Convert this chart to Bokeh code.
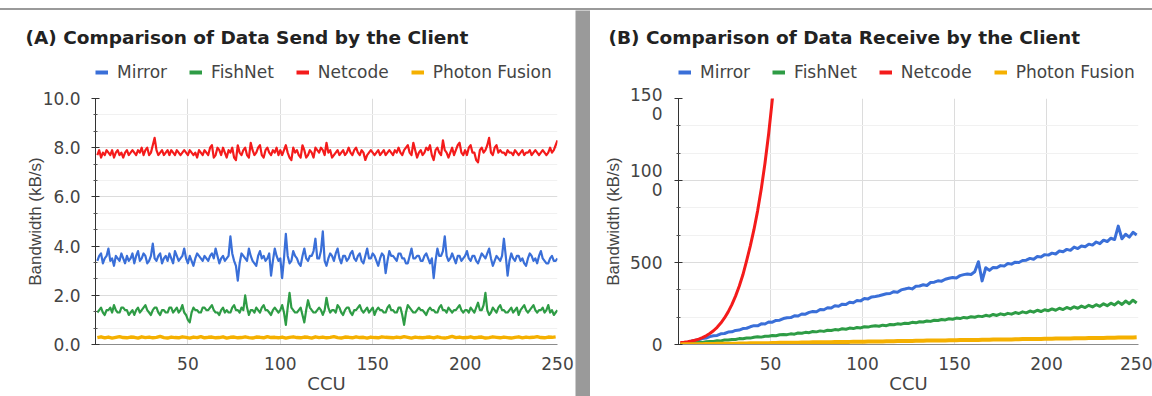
from bokeh.plotting import figure
from bokeh.layouts import row, column
from bokeh.models import Legend, LegendItem, FixedTicker, PrintfTickFormatter, Div
from bokeh.embed import file_html
from bokeh.resources import INLINE

# ---------------- data ----------------
ccu = list(range(1, 251))          # every CCU step
ccu_half = list(range(1, 250, 2))  # every second CCU step

series_names = ["Mirror", "FishNet", "Netcode", "Photon Fusion"]
series_colors = ["#3a6fd8", "#2e9c45", "#f41b1b", "#f5b000"]

x_ticks = [50, 100, 150, 200, 250]

# (A) data send by the client, kB/s  (one value per CCU)
send_netcode = [
    7.7, 7.9, 7.6, 7.8, 7.7, 7.9, 7.8, 7.7, 7.9, 7.6, 7.8, 7.9, 7.7, 7.8, 7.6, 7.8, 7.9, 7.7, 7.8, 7.9,
    7.8, 7.7, 7.9, 7.8, 8.0, 7.7, 7.9, 8.0, 7.7, 7.8, 8.1, 8.4, 7.9, 7.7, 7.8, 7.9, 7.7, 7.8, 7.9, 7.7,
    7.9, 7.8, 7.7, 7.9, 7.8, 7.7, 7.8, 7.9, 7.8, 7.7, 7.9, 7.8, 7.7, 7.8, 7.6, 7.9, 7.8, 7.7, 7.9, 7.8,
    7.7, 8.0, 8.1, 7.6, 7.7, 8.0, 7.9, 7.7, 8.0, 7.8, 7.6, 7.9, 7.8, 8.0, 7.6, 7.5, 8.1, 7.8, 7.7, 7.9,
    8.0, 7.7, 7.6, 8.2, 7.9, 7.7, 7.8, 8.0, 8.1, 7.7, 7.6, 7.9, 8.0, 7.8, 7.7, 7.9, 7.8, 8.0, 7.7, 7.9,
    7.7, 7.9, 8.1, 7.8, 7.6, 7.5, 8.0, 7.8, 7.9, 7.7, 7.6, 8.1, 7.9, 7.6, 7.7, 7.9, 7.8, 7.6, 8.0, 7.9,
    7.8, 8.0, 7.9, 7.7, 8.2, 7.8, 7.9, 7.6, 7.7, 7.8, 7.9, 7.7, 7.8, 7.9, 7.7, 7.8, 8.0, 7.8, 7.7, 7.9,
    8.0, 7.8, 7.7, 7.9, 7.8, 7.5, 7.7, 7.8, 7.9, 7.8, 7.7, 7.8, 7.9, 7.7, 7.8, 7.9, 7.7, 7.8, 7.9, 7.8,
    7.7, 7.9, 7.8, 8.0, 7.8, 7.7, 7.9, 8.0, 8.1, 7.8, 7.7, 8.2, 7.9, 7.6, 7.8, 7.9, 7.7, 7.8, 8.0, 7.9,
    8.1, 7.7, 7.5, 7.9, 8.0, 7.8, 7.7, 8.3, 7.9, 7.8, 7.6, 7.8, 8.0, 7.7, 7.9, 8.1, 8.2, 7.8, 7.7, 7.9,
    7.7, 8.0, 8.1, 7.8, 7.8, 7.5, 7.4, 7.9, 8.0, 7.8, 7.9, 8.1, 8.4, 7.8, 7.7, 8.0, 8.1, 7.8, 7.9, 7.8,
    7.8, 7.7, 7.9, 7.8, 7.8, 7.7, 7.9, 7.8, 7.7, 7.8, 7.9, 7.7, 7.8, 7.8, 7.9, 7.7, 7.8, 7.9, 7.8, 7.7,
    7.8, 7.9, 7.8, 7.7, 7.8, 8.0, 7.8, 7.9, 8.1, 8.3,
]
send_mirror = [
    3.4, 3.6, 3.7, 3.3, 3.5, 3.6, 3.9, 3.4, 3.5, 3.2, 3.6, 3.5, 3.4, 3.7, 3.5, 3.3, 3.6, 3.4, 3.5, 3.7,
    3.3, 3.6, 3.8, 3.4, 3.5, 3.7, 3.6, 3.3, 3.4, 3.6, 4.1, 3.5, 3.4, 3.6, 3.7, 3.3, 3.5, 3.6, 3.4, 3.7,
    3.5, 3.3, 3.8, 3.6, 3.4, 3.5, 3.6, 3.9, 3.5, 3.3, 3.6, 3.4, 3.2, 3.5, 3.7, 3.6, 3.5, 3.4, 3.6, 3.5,
    3.4, 3.6, 3.7, 3.5, 3.9, 3.6, 3.3, 3.5, 3.6, 3.4, 3.5, 3.6, 4.4, 3.7, 3.4, 3.2, 2.6, 3.3, 3.7, 3.6,
    3.5, 3.4, 3.9, 3.6, 3.4, 3.3, 3.2, 3.6, 3.8, 3.5, 3.6, 3.4, 3.5, 3.7, 2.8, 3.4, 3.9, 3.6, 3.4, 3.5,
    2.7, 3.5, 4.5, 3.6, 3.3, 3.4, 3.8, 3.6, 3.5, 3.3, 3.2, 3.6, 3.9, 3.5, 3.4, 3.6, 3.6, 3.8, 4.3, 3.5,
    3.5, 3.8, 4.6, 3.4, 3.2, 3.5, 3.7, 3.6, 3.4, 3.7, 3.9, 3.5, 3.3, 3.6, 3.6, 3.4, 3.5, 3.7, 3.8, 3.5,
    3.4, 3.6, 3.7, 3.4, 3.3, 3.6, 3.9, 3.5, 3.5, 3.7, 3.6, 3.4, 3.2, 3.5, 3.7, 3.6, 2.9, 3.4, 3.8, 3.6,
    3.6, 3.5, 3.4, 3.7, 3.7, 3.5, 3.5, 3.3, 3.3, 3.6, 3.9, 3.5, 3.5, 3.6, 3.6, 3.4, 3.4, 3.6, 3.7, 3.5,
    3.3, 3.5, 2.7, 3.4, 3.9, 3.6, 3.6, 3.8, 4.4, 3.6, 3.4, 3.5, 3.7, 3.5, 3.3, 3.6, 3.6, 3.4, 3.5, 3.6,
    3.8, 3.5, 3.4, 3.6, 3.6, 3.4, 3.3, 3.5, 3.7, 3.6, 3.5, 3.7, 3.9, 3.5, 3.2, 3.4, 3.6, 3.5, 3.4, 3.6,
    4.3, 3.6, 2.8, 3.4, 3.7, 3.5, 3.4, 3.6, 3.6, 3.4, 3.5, 3.3, 3.2, 3.5, 3.7, 3.6, 3.4, 3.5, 3.3, 3.6,
    3.8, 3.5, 3.4, 3.3, 3.3, 3.5, 3.6, 3.4, 3.4, 3.5,
]
send_fishnet = [
    1.3, 1.4, 1.5, 1.3, 1.2, 1.4, 1.4, 1.5, 1.3, 1.6, 1.4, 1.3, 1.3, 1.5, 1.5, 1.4, 1.4, 1.2, 1.3, 1.4,
    1.2, 1.4, 1.5, 1.3, 1.4, 1.5, 1.6, 1.4, 1.3, 1.2, 1.4, 1.5, 1.5, 1.3, 1.2, 1.4, 1.4, 1.3, 1.3, 1.5,
    1.5, 1.3, 1.4, 1.5, 1.3, 1.4, 1.6, 1.3, 1.2, 1.0, 0.9, 1.3, 1.5, 1.4, 1.4, 1.3, 1.3, 1.5, 1.5, 1.4,
    1.4, 1.5, 1.6, 1.4, 1.3, 1.3, 1.2, 1.4, 1.5, 1.3, 1.4, 1.3, 1.3, 1.5, 1.6, 1.4, 1.4, 1.3, 1.5, 1.4,
    2.0, 1.5, 1.2, 1.4, 1.4, 1.3, 1.5, 1.4, 1.3, 1.5, 1.6, 1.4, 1.4, 1.3, 1.2, 1.4, 1.5, 1.4, 1.3, 1.4,
    1.6, 1.3, 0.8, 1.5, 2.1, 1.5, 1.4, 1.3, 1.3, 1.4, 1.5, 1.2, 0.9, 1.4, 1.8, 1.5, 1.4, 1.3, 1.3, 1.4,
    1.5, 1.4, 1.2, 1.4, 1.9, 1.5, 1.3, 1.4, 1.4, 1.3, 1.6, 1.5, 1.3, 1.2, 1.4, 1.5, 1.5, 1.3, 1.2, 1.4,
    1.4, 1.5, 1.6, 1.4, 1.3, 1.4, 1.5, 1.3, 1.4, 1.5, 1.2, 1.4, 1.5, 1.4, 1.4, 1.3, 1.3, 1.5, 1.6, 1.4,
    1.4, 1.3, 1.3, 1.5, 1.5, 1.2, 0.8, 1.3, 1.6, 1.5, 1.4, 1.3, 1.3, 1.4, 1.5, 1.4, 1.4, 1.3, 1.2, 1.4,
    1.5, 1.4, 1.4, 1.3, 1.3, 1.5, 1.6, 1.4, 1.4, 1.3, 1.5, 1.4, 1.3, 1.4, 1.4, 1.5, 1.6, 1.4, 1.3, 1.4,
    1.4, 1.3, 1.5, 1.4, 1.3, 1.5, 1.7, 1.4, 1.4, 1.6, 2.1, 1.4, 1.2, 1.3, 1.5, 1.4, 1.3, 1.5, 1.6, 1.4,
    1.4, 1.3, 1.3, 1.4, 1.5, 1.3, 1.4, 1.5, 1.2, 1.4, 1.5, 1.6, 1.4, 1.3, 1.4, 1.5, 1.6, 1.4, 1.3, 1.4,
    1.4, 1.5, 1.3, 1.4, 1.6, 1.3, 1.4, 1.2, 1.3, 1.4,
]
# (one value per second CCU step)
send_photon = [
    0.28, 0.31, 0.27, 0.30, 0.26, 0.29, 0.32, 0.28, 0.27, 0.30,
    0.29, 0.26, 0.31, 0.28, 0.30, 0.27, 0.29, 0.33, 0.28, 0.26,
    0.30, 0.28, 0.27, 0.31, 0.29, 0.26, 0.30, 0.28, 0.32, 0.27,
    0.29, 0.30, 0.27, 0.28, 0.31, 0.26, 0.29, 0.30, 0.27, 0.28,
    0.31, 0.28, 0.26, 0.30, 0.29, 0.27, 0.32, 0.28, 0.29, 0.27,
    0.30, 0.26, 0.29, 0.31, 0.28, 0.27, 0.30, 0.29, 0.26, 0.31,
    0.28, 0.30, 0.27, 0.29, 0.32, 0.28, 0.26, 0.30, 0.29, 0.27,
    0.31, 0.28, 0.29, 0.26, 0.30, 0.28, 0.27, 0.31, 0.29, 0.28,
    0.27, 0.30, 0.28, 0.32, 0.29, 0.26, 0.30, 0.28, 0.27, 0.29,
    0.30, 0.27, 0.31, 0.28, 0.26, 0.29, 0.33, 0.28, 0.30, 0.27,
    0.28, 0.31, 0.27, 0.29, 0.30, 0.26, 0.28, 0.31, 0.29, 0.27,
    0.30, 0.28, 0.26, 0.29, 0.31, 0.27, 0.30, 0.28, 0.29, 0.32,
    0.28, 0.27, 0.30, 0.29, 0.31,
]
send_y_ticks = [0, 2, 4, 6, 8, 10]
send_y_minor = [0.667, 1.333, 2.667, 3.333, 4.667, 5.333, 6.667, 7.333, 8.667, 9.333]

# (B) data receive by the client, kB/s  (one value per second CCU step)
recv_mirror = [
    4, 9, 12, 20, 26, 28, 37, 39, 48, 53,
    55, 65, 67, 76, 77, 86, 88, 97, 99, 108,
    115, 114, 126, 125, 137, 136, 147, 148, 158, 163,
    164, 175, 174, 186, 185, 196, 201, 200, 214, 212,
    224, 222, 236, 233, 246, 244, 258, 255, 268, 266,
    280, 278, 290, 293, 297, 303, 309, 311, 322, 318,
    333, 338, 344, 339, 355, 357, 364, 360, 378, 380,
    388, 386, 398, 404, 409, 406, 420, 426, 430, 427,
    444, 505, 388, 468, 452, 470, 468, 481, 478, 494,
    490, 502, 500, 512, 514, 525, 520, 536, 534, 548,
    545, 557, 552, 570, 566, 580, 574, 594, 585, 600,
    596, 612, 606, 625, 615, 636, 628, 648, 640, 722,
    645, 672, 655, 684, 668,
]
recv_fishnet = [
    2, 3, 6, 8, 10, 12, 13, 17, 19, 19,
    23, 22, 27, 28, 31, 31, 36, 35, 40, 39,
    44, 47, 45, 50, 50, 55, 53, 59, 61, 60,
    65, 63, 70, 69, 74, 72, 79, 77, 83, 80,
    87, 85, 91, 89, 96, 93, 100, 97, 104, 101,
    108, 106, 112, 114, 111, 118, 115, 122, 120, 126,
    124, 130, 128, 135, 132, 139, 137, 143, 141, 148,
    146, 152, 150, 157, 154, 161, 158, 165, 162, 169,
    166, 173, 170, 178, 173, 183, 177, 187, 181, 190,
    185, 195, 189, 199, 193, 204, 197, 209, 201, 212,
    206, 217, 209, 221, 213, 226, 217, 230, 221, 234,
    225, 239, 229, 243, 233, 248, 237, 252, 241, 260,
    244, 265, 249, 270, 253,
]
recv_photon = [
    0, 1, 1, 1, 2, 2, 2, 3, 3, 3,
    4, 4, 4, 5, 5, 5, 6, 6, 6, 7,
    7, 7, 8, 8, 8, 9, 9, 10, 10, 10,
    10, 11, 11, 12, 12, 12, 13, 13, 13, 14,
    14, 14, 15, 15, 15, 16, 16, 17, 17, 17,
    17, 18, 18, 19, 19, 19, 20, 20, 20, 21,
    21, 21, 22, 22, 23, 23, 23, 24, 24, 24,
    24, 25, 25, 26, 26, 26, 27, 27, 27, 28,
    28, 28, 29, 29, 29, 30, 30, 31, 31, 31,
    31, 32, 32, 33, 33, 33, 34, 34, 34, 35,
    35, 35, 36, 36, 36, 37, 37, 38, 38, 38,
    38, 39, 39, 40, 40, 40, 41, 41, 41, 42,
    42, 42, 43, 43, 44,
]
recv_netcode_ccu = [1, 3, 5, 7, 9, 11, 13, 15, 17, 19, 21, 23, 25, 27, 29,
                    31, 33, 35, 37, 39, 41, 43, 45, 47, 49, 51, 53]
recv_netcode = [12, 14, 17, 21, 26, 33, 42, 53, 67, 84, 105, 131, 162, 199, 243,
                295, 355, 425, 510, 600, 700, 815, 950, 1105, 1285, 1495, 1740]
recv_y_ticks = [0, 500, 1000, 1500]
recv_y_labels = ["0", "500", "100\n0", "150\n0"]
recv_y_minor = [166.7, 333.3, 666.7, 833.3, 1166.7, 1333.3]

FONT = "DejaVu Sans"
TXT = "#444444"
HEAD_H = 74
CHART_H = 312


def make_header(title, width):
    h = figure(width=width, height=HEAD_H, x_range=(0, 1), y_range=(0, 1),
               output_backend="svg", toolbar_location=None,
               x_axis_type=None, y_axis_type=None, min_border=0)
    h.title.text = title
    h.title.text_font = FONT
    h.title.text_font_size = "18.5px"
    h.title.text_font_style = "bold"
    h.title.text_color = "#222222"
    h.title.align = "left"
    h.title.offset = -70
    h.title.standoff = 29
    h.outline_line_color = None
    h.grid.visible = False
    h.background_fill_color = "white"
    h.border_fill_color = "white"
    # legend keys only (a single empty point each, nothing is drawn in the frame)
    keys = [h.line(x=[0.5], y=[float("nan")], line_color=c, line_width=4) for c in series_colors]
    legend = Legend(items=[LegendItem(label=n, renderers=[r], index=0) for n, r in zip(series_names, keys)],
                    orientation="horizontal", location=(0, 2),
                    glyph_width=13, glyph_height=16, label_standoff=9, spacing=22,
                    padding=0, margin=0, border_line_color=None,
                    background_fill_alpha=0,
                    label_text_font=FONT, label_text_font_size="17px",
                    label_text_color=TXT, label_height=16)
    h.add_layout(legend)
    return h


def make_chart(width, bl, br, y_end, y_ticks, y_minor, lines, lwidths, ylab_standoff):
    p = figure(width=width, height=CHART_H, x_range=(0, 250), y_range=(0, y_end),
               output_backend="svg", toolbar_location=None,
               min_border_left=bl, min_border_right=br,
               min_border_top=14, min_border_bottom=52)
    p.title.visible = False
    p.outline_line_color = None
    p.background_fill_color = "white"
    p.border_fill_color = "white"

    for (xs, ys), c, lw in zip(lines, series_colors, lwidths):
        p.line(xs, ys, line_color=c, line_width=lw, line_join="round")

    # axes
    p.xaxis.ticker = FixedTicker(ticks=x_ticks)
    p.xaxis.axis_label = "CCU"
    p.xaxis.major_tick_line_color = None
    p.xaxis.minor_tick_line_color = None
    p.xaxis.axis_line_color = "#8c8c8c"
    p.xaxis.major_label_standoff = 6
    p.xaxis.axis_label_standoff = 0
    p.xaxis.major_label_text_line_height = 1.0
    p.xaxis.axis_label_text_line_height = 1.0

    p.yaxis.ticker = FixedTicker(ticks=y_ticks, minor_ticks=y_minor)
    p.yaxis.axis_label = "Bandwidth (kB/s)"
    p.yaxis.axis_line_color = "#333333"
    p.yaxis.major_tick_line_color = "#333333"
    p.yaxis.minor_tick_line_color = "#555555"
    p.yaxis.major_tick_in = 4
    p.yaxis.major_tick_out = 4
    p.yaxis.minor_tick_in = 2
    p.yaxis.minor_tick_out = 2
    p.yaxis.major_label_standoff = 11
    p.yaxis.axis_label_standoff = ylab_standoff

    for ax in (p.xaxis[0], p.yaxis[0]):
        ax.major_label_text_font = FONT
        ax.major_label_text_font_size = "17px"
        ax.major_label_text_color = TXT
        ax.axis_label_text_font_style = "normal"
        ax.axis_label_text_color = TXT
    p.xaxis.axis_label_text_font = FONT
    p.xaxis.axis_label_text_font_size = "18px"
    p.yaxis.axis_label_text_font = "Liberation Sans"
    p.yaxis.axis_label_text_font_size = "17px"

    p.xgrid.ticker = FixedTicker(ticks=x_ticks)
    p.xgrid.grid_line_color = "#dcdcdc"
    p.ygrid.grid_line_color = "#dcdcdc"
    p.ygrid.minor_grid_line_color = "#f1f1f1"
    return p


ha = make_header("(A) Comparison of Data Send by the Client", 575)
pa = make_chart(575, 95, 18, 10, send_y_ticks, send_y_minor,
                [(ccu, send_mirror), (ccu, send_fishnet), (ccu, send_netcode), (ccu_half, send_photon)],
                [2.2, 2.2, 2.2, 3.5], -5)
pa.yaxis.formatter = PrintfTickFormatter(format="%.1f")

hb = make_header("(B) Comparison of Data Receive by the Client", 562)
pb = make_chart(562, 88, 14, 1500, recv_y_ticks, recv_y_minor,
                [(ccu_half, recv_mirror), (ccu_half, recv_fishnet), (recv_netcode_ccu, recv_netcode),
                 (ccu_half, recv_photon)],
                [3, 3, 3, 4], 4)
pb.yaxis.major_label_overrides = {t: l for t, l in zip(recv_y_ticks, recv_y_labels)}
pb.yaxis.major_label_text_line_height = 0.95
pb.yaxis.major_label_standoff = 12


def strip(w, h, color):
    s = figure(width=w, height=h, output_backend="svg", toolbar_location=None,
               x_axis_type=None, y_axis_type=None, min_border=0)
    s.background_fill_color = color
    s.border_fill_color = color
    s.outline_line_color = None
    s.grid.visible = False
    return s


gap = Div(text="", width=1152, height=8, margin=0)
top = Div(text="", width=1152, height=2, margin=0, styles={"background-color": "#9a9a9a"})
sep = strip(15, HEAD_H + CHART_H, "#9a9a9a")

layout = column(gap, top, row(column(ha, pa), sep, column(hb, pb)))
open("out.html", "w").write(file_html(layout, INLINE))
